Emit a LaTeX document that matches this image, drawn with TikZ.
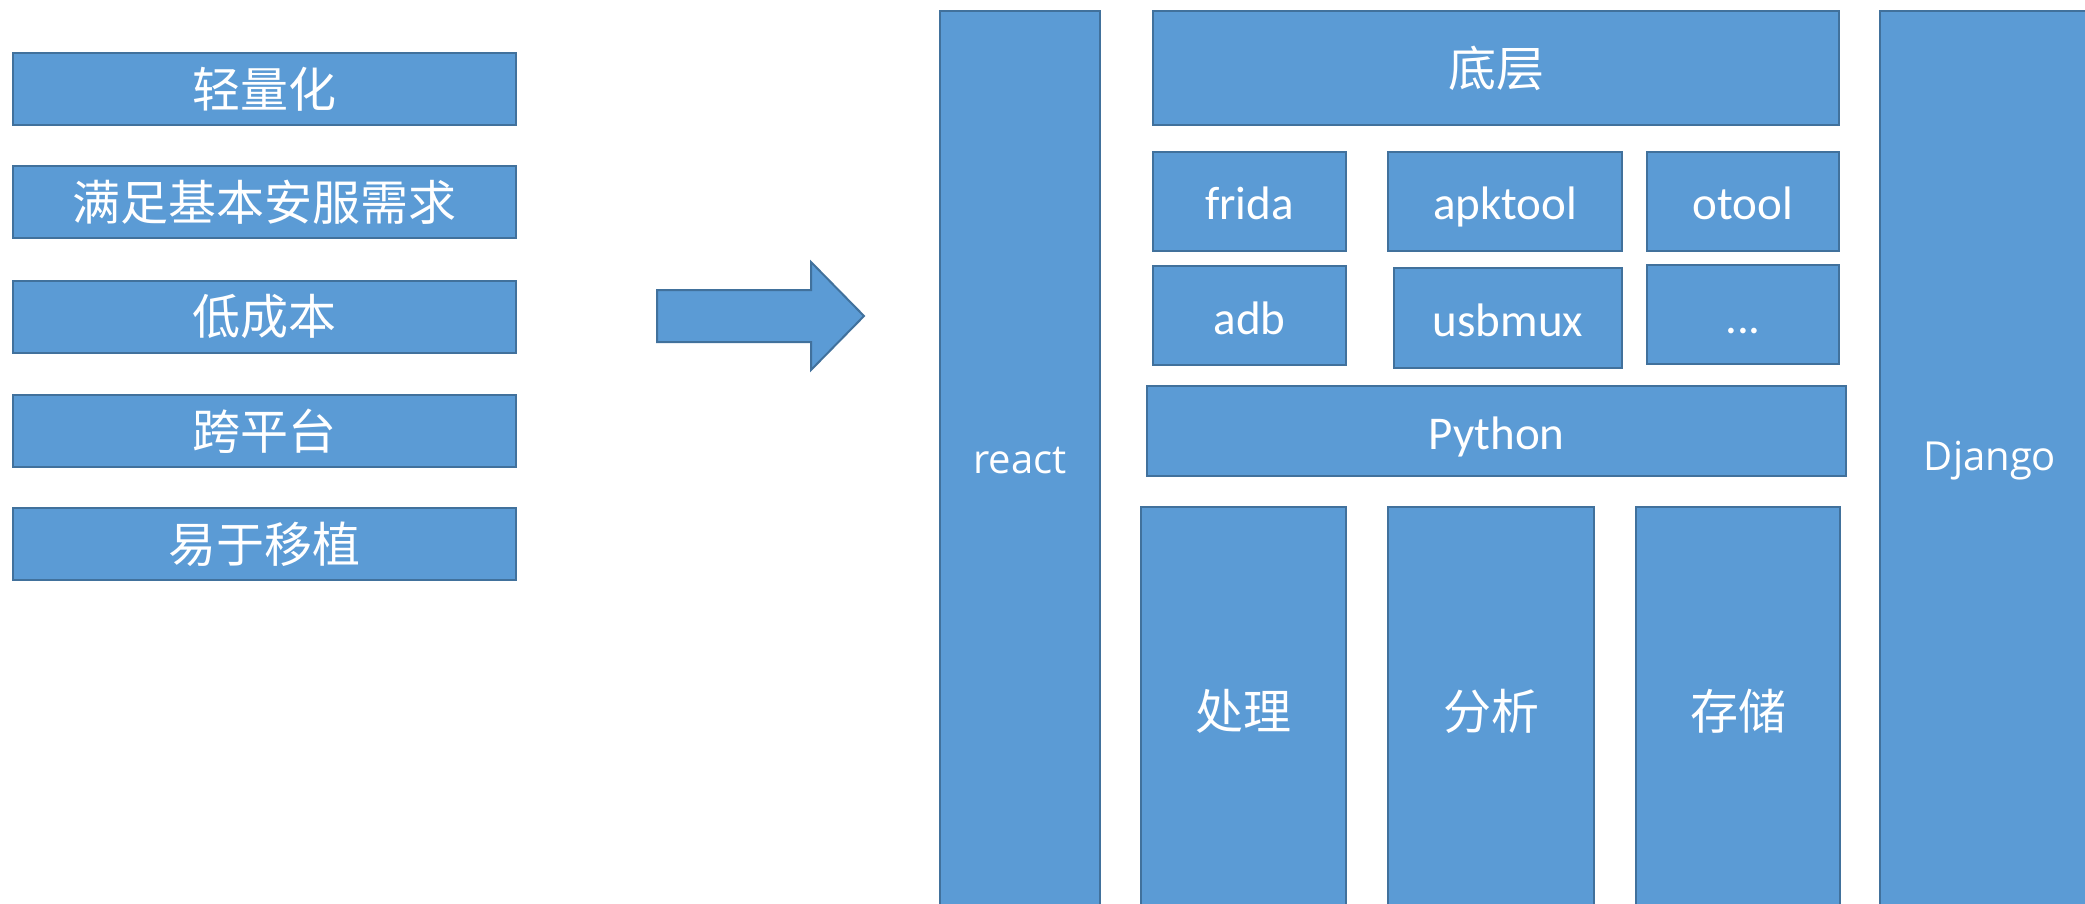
\documentclass[tikz,border=0pt]{standalone}
\usepackage{fontspec}
\setmainfont{Carlito}
\newfontfamily\cjkfont{Noto Sans CJK SC}
\newfontfamily\uifont{Open Sans}
\usepackage{tikz}
\usetikzlibrary{positioning}
\definecolor{blkfill}{HTML}{5B9BD5}
\definecolor{blkline}{HTML}{41719C}
\newcommand{\cn}[1]{{\cjkfont\fontsize{48}{56}\selectfont #1}}
\newcommand{\en}[1]{{\fontsize{47}{56}\selectfont #1}}
\newcommand{\ui}[1]{{\uifont\fontsize{40}{48}\selectfont #1}}
\tikzstyle{blk}=[rectangle,draw=blkline,fill=blkfill,line width=2pt,text=white,inner sep=0pt]
\tikzstyle{feat}=[blk,minimum width=503pt,minimum height=72pt]
\tikzstyle{entxt}=[text height=37pt,text depth=0pt]
\tikzstyle{tool}=[blk,entxt,minimum height=99pt]
\tikzstyle{col}=[blk,minimum height=408pt]
\tikzstyle{side}=[blk,minimum height=900pt]

\begin{document}
\begin{tikzpicture}[x=1pt,y=-1pt]
\useasboundingbox (0,0) rectangle (2085,904);
\clip (0,0) rectangle (2085,904);
% requirements
\node[feat] (light) at (264.5,89.5) {\cn{轻量化}};
\node[feat] (basic) at (264.5,202) {\cn{满足基本安服需求}};
\node[feat] (cost) at (264.5,316.5) {\cn{低成本}};
\node[feat] (cross) at (264.5,431) {\cn{跨平台}};
\node[feat] (port) at (264.5,544) {\cn{易于移植}};
% big arrow
\draw[draw=blkline,fill=blkfill,line width=2pt] (657,290) -- (811,290) -- (811,262)
  -- (864,316) -- (811,370) -- (811,342) -- (657,342) -- cycle;
% architecture
\node[side,minimum width=160pt] (react) at (1020,461) {\ui{react}};
\node[blk,minimum width=686pt,minimum height=114pt] (base) at (1496,68) {\cn{底层}};
\node[tool,minimum width=193pt] (frida) at (1249.5,201.5) {\en{frida}};
\node[tool,minimum width=234pt] (apktool) at (1505,201.5) {\en{apktool}};
\node[tool,minimum width=192pt] (otool) at (1743,201.5) {\en{otool}};
\node[tool,minimum width=193pt] (adb) at (1249.5,315.5) {\en{adb}};
\node[tool,minimum width=228pt,minimum height=100pt] (usbmux) at (1508,318) {\en{usbmux}};
\node[tool,minimum width=192pt] (more) at (1743,314.5) {\en{{.}{.}{.}}};
\node[blk,entxt,minimum width=699pt,minimum height=90pt] (python) at (1496.5,431) {\en{Python}};
\node[col,minimum width=205pt] (proc) at (1243.5,711) {\cn{处理}};
\node[col,minimum width=206pt] (anal) at (1491,711) {\cn{分析}};
\node[col,minimum width=204pt] (store) at (1738,711) {\cn{存储}};
\node[side,minimum width=220pt] (django) at (1990,461) {\ui{Django}};
\end{tikzpicture}
\end{document}
